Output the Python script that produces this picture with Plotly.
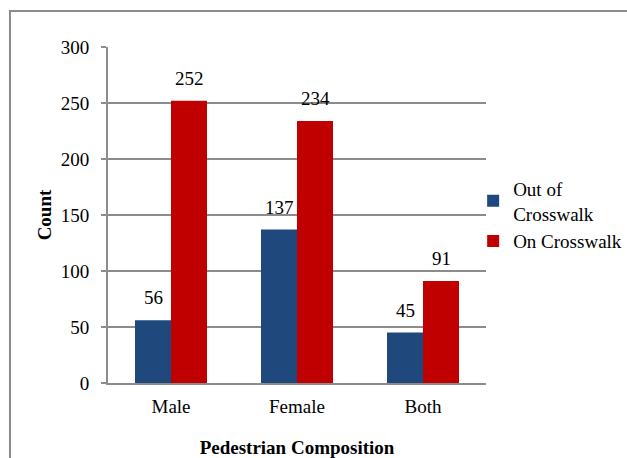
import plotly.graph_objects as go

categories = ["Male", "Female", "Both"]
out_of_crosswalk = [56, 137, 45]
on_crosswalk = [252, 234, 91]
series_names = ["Out of<br>Crosswalk", "On Crosswalk"]
y_ticks = [0, 50, 100, 150, 200, 250, 300]

BLUE = "#1F497D"
RED = "#C00000"
GRID = "#8C8C8C"
FONT = "Liberation Serif"
FS = 19

fig = go.Figure()
fig.add_trace(go.Bar(x=categories, y=out_of_crosswalk, name=series_names[0],
                     marker=dict(color=BLUE, line=dict(width=0))))
fig.add_trace(go.Bar(x=categories, y=on_crosswalk, name=series_names[1],
                     marker=dict(color=RED, line=dict(width=0))))

# value labels above each bar
bar_half = 18
for vals, shift in ((out_of_crosswalk, -bar_half), (on_crosswalk, bar_half)):
    for c, v in zip(categories, vals):
        fig.add_annotation(x=c, y=v, text=str(v), showarrow=False,
                           xshift=shift, yshift=10, yanchor="bottom",
                           font=dict(family=FONT, size=FS, color="black"))

# outer frame around the chart
fig.add_shape(type="rect", xref="paper", yref="paper",
              x0=-0.2593, x1=1.45, y0=-0.3, y1=1.107,
              line=dict(color=GRID, width=2), fillcolor="rgba(0,0,0,0)")

fig.update_layout(
    width=627, height=458,
    margin=dict(l=108, r=141, t=47, b=75, autoexpand=False),
    paper_bgcolor="white", plot_bgcolor="white",
    barmode="group", bargap=0.4286, bargroupgap=0,
    font=dict(family=FONT, size=FS, color="black"),
    showlegend=True,
    legend=dict(x=0.966, y=0.635, xanchor="left", yanchor="top",
                font=dict(family=FONT, size=FS), tracegroupgap=0,
                itemsizing="constant", bgcolor="rgba(0,0,0,0)"),
    xaxis=dict(showline=True, linecolor=GRID, linewidth=2, ticks="",
               showgrid=False, ticklabelstandoff=5, automargin=False,
               title=dict(text="<b>Pedestrian Composition</b>", standoff=25,
                          font=dict(family=FONT, size=FS))),
    yaxis=dict(range=[0, 300], tickvals=y_ticks, showline=True, linecolor=GRID,
               linewidth=2, ticks="outside", ticklen=5, tickcolor=GRID,
               tickwidth=2, showgrid=True, gridcolor=GRID, gridwidth=2,
               zeroline=False, ticklabelstandoff=8, automargin=False,
               title=dict(text="<b>Count</b>", standoff=4,
                          font=dict(family=FONT, size=FS))),
)

fig.write_html("out.html")
